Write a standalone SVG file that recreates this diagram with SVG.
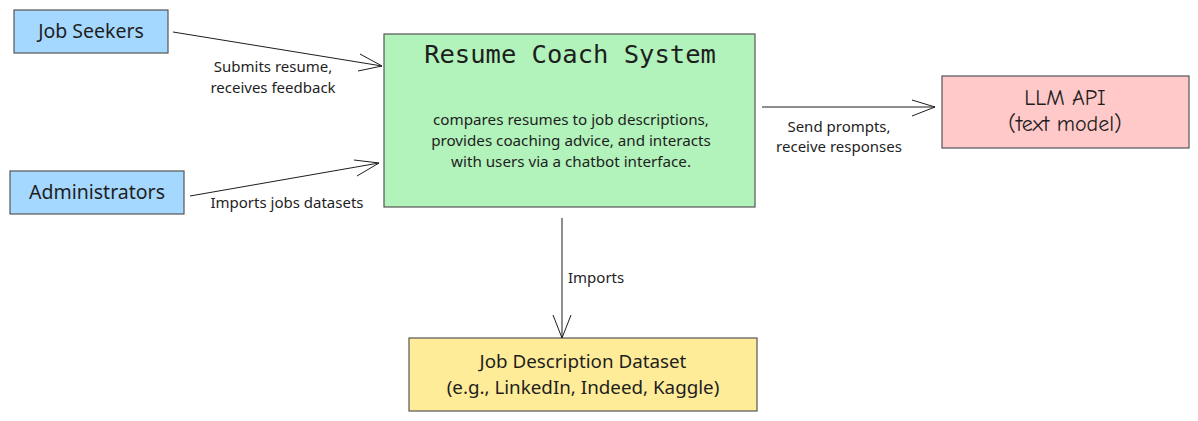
<svg xmlns="http://www.w3.org/2000/svg" width="1198" height="421" viewBox="0 0 1198 421">
<style>
.box{stroke:#555;stroke-width:1.2}
.t{font-family:"Noto Sans","Open Sans",sans-serif;fill:#1e1e1e;text-anchor:middle}
.lbl{font-family:"Noto Sans","Open Sans",sans-serif;fill:#1e1e1e;font-size:15px}
.mid{text-anchor:middle}
.edge{stroke:#1e1e1e;stroke-width:1;fill:none}
</style>
<rect width="1198" height="421" fill="#ffffff"/>
<g id="job-seekers">
<rect class="box" x="14" y="10" width="154" height="43" fill="#a5d8ff"/>
<text class="t" x="91" y="38" font-size="19.5">Job Seekers</text>
</g>
<g id="administrators">
<rect class="box" x="10" y="171" width="174" height="43" fill="#a5d8ff"/>
<text class="t" x="97" y="199" font-size="19.5">Administrators</text>
</g>
<g id="resume-coach">
<rect class="box" x="384" y="34" width="371" height="173" fill="#b2f2bb"/>
<text x="570" y="63" font-size="25.5" font-family="'Comic Shanns','DejaVu Sans Mono',monospace" fill="#1e1e1e" text-anchor="middle">Resume Coach System</text>
<text class="t" x="571" y="125" font-size="15.2">compares resumes to job descriptions,</text>
<text class="t" x="571" y="146" font-size="15.2">provides coaching advice, and interacts</text>
<text class="t" x="571" y="167" font-size="15.2">with users via a chatbot interface.</text>
</g>
<g id="llm-api">
<rect class="box" x="942" y="76" width="247" height="72" fill="#ffc9c9"/>
<text x="1065" y="105" font-size="22" font-family="'Comic Sans MS','Comic Neue','Noto Sans',sans-serif" fill="#1e1e1e" text-anchor="middle">LLM API</text>
<text x="1065" y="131" font-size="22" font-family="'Comic Sans MS','Comic Neue','Noto Sans',sans-serif" fill="#1e1e1e" text-anchor="middle">(text model)</text>
</g>
<g id="job-dataset">
<rect class="box" x="409" y="338" width="348" height="73" fill="#ffec99"/>
<text class="t" x="583" y="368" font-size="18.8">Job Description Dataset</text>
<text class="t" x="583" y="394" font-size="18.8">(e.g., LinkedIn, Indeed, Kaggle)</text>
</g>
<g id="connectors">
<path class="edge" d="M173,32 L382,66 M360,54 L382,66 L358,71"/>
<text class="lbl mid" x="273" y="72">Submits resume,</text>
<text class="lbl mid" x="273" y="93">receives feedback</text>
<path class="edge" d="M190,196 L379,163 M354,160 L379,163 L357,176"/>
<text class="lbl mid" x="287" y="208">Imports jobs datasets</text>
<path class="edge" d="M762,107 L935,107 M912,100 L935,107 L912,116"/>
<text class="lbl mid" x="839" y="132">Send prompts,</text>
<text class="lbl mid" x="839" y="152">receive responses</text>
<path class="edge" d="M562,218 L562,338 M553,315 L562,338 L571,315"/>
<text class="lbl" x="568" y="283">Imports</text>
</g>
</svg>
